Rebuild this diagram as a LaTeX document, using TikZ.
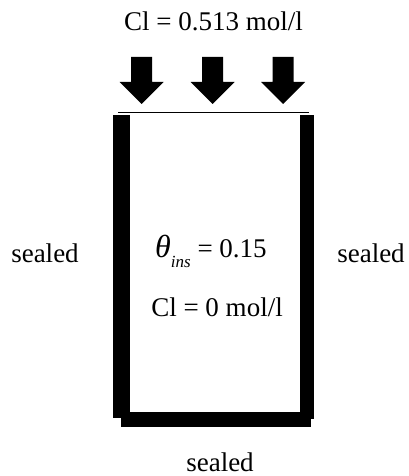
\documentclass[tikz,border=0pt]{standalone}
\usepackage{fontspec}
\setmainfont{Liberation Serif}
\usetikzlibrary{positioning}

\begin{document}
\begin{tikzpicture}[
  x=1pt, y=-1pt,
  every node/.style={font=\fontsize{27}{30}\selectfont, inner sep=0pt},
  label/.style={anchor=base},
  wall/.style={fill=black},
  inflow/.style={fill=black}
]
\useasboundingbox (0,0) rectangle (408,476);

% walls of the specimen
\fill[wall] (113,115) rectangle (130,418);
\fill[wall] (300,115) rectangle (314,419);
\fill[wall] (121,412) rectangle (311,427);
\draw[line width=1.5pt] (118,112.5) -- (309,112.5);

% inflow arrows
\foreach \x in {141.5,212.5,283}
  \fill[inflow] (\x-10.5,57) -- (\x+10.5,57) -- (\x+10.5,82) -- (\x+22,82)
    -- (\x,104) -- (\x-22,82) -- (\x-10.5,82) -- cycle;

\node[label] (top) at (213.5,31) {Cl = 0.513 mol/l};
\node[label] (left) at (45,262) {sealed};
\node[label] (right) at (371,262) {sealed};
\node[label] (bottom) at (220,471) {sealed};
\node[label] (theta) at (211,257) {{\fontsize{32}{32}\selectfont\itshape θ}\raisebox{-0.4em}{\fontsize{17}{17}\selectfont\itshape ins} = 0.15};
\node[label] (conc) at (217,316) {Cl = 0 mol/l};

\end{tikzpicture}
\end{document}
